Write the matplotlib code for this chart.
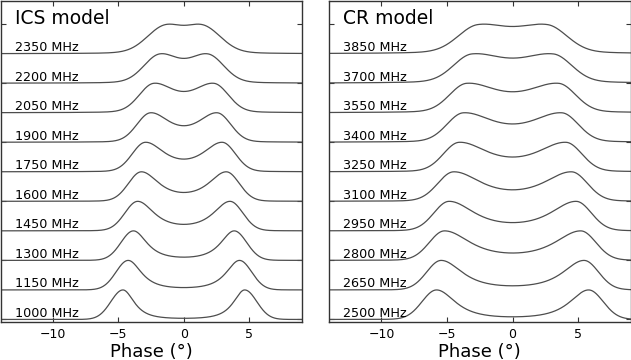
import numpy as np
import matplotlib.pyplot as plt

# values: peak phase (deg), mid-phase level (fraction of peak),
# outer-edge width (deg) for each frequency
ics_freqs = [1000, 1150, 1300, 1450, 1600, 1750, 1900, 2050, 2200, 2350]
ics_peak = [4.65, 4.25, 3.85, 3.53, 3.25, 2.94, 2.55, 2.30, 1.85, 1.47]
ics_mid = [0.04, 0.08, 0.11, 0.22, 0.30, 0.43, 0.56, 0.72, 0.84, 0.96]
ics_outer = [0.92, 0.93, 0.95, 0.97, 0.98, 1.00, 1.03, 1.10, 1.20, 1.35]

cr_freqs = [2500, 2650, 2800, 2950, 3100, 3250, 3400, 3550, 3700, 3850]
cr_peak = [5.80, 5.45, 5.20, 4.85, 4.50, 4.07, 3.75, 3.50, 3.10, 2.65]
cr_mid = [0.09, 0.14, 0.25, 0.28, 0.39, 0.50, 0.62, 0.71, 0.85, 0.92]
cr_outer = [1.10, 1.10, 1.15, 1.15, 1.20, 1.20, 1.25, 1.30, 1.40, 1.50]

phase = np.linspace(-14, 9, 1400)


def half(x, p, s_out, w_in):
    d = x - p
    return np.where(d > 0, np.exp(-0.5 * (d / s_out) ** 2),
                    (1 + (d / w_in) ** 2) ** -1.5)


def profile(x, p, s_out, w_in):
    return half(x, p, s_out, w_in) + half(-x, p, s_out, w_in)


def inner_width(p, s_out, mid):
    # pick the inner width so the level at phase 0 matches the reading
    lo, hi = np.log(0.05), np.log(50.0)
    for _ in range(60):
        w = np.exp(0.5 * (lo + hi))
        top = profile(phase, p, s_out, w).max()
        r = profile(np.array([0.0]), p, s_out, w)[0] / top
        if r > mid:
            hi = np.log(w)
        else:
            lo = np.log(w)
    return w


def draw_panel(ax, title, freqs, peaks, mids, outers):
    for i, (f, p, m, s) in enumerate(zip(freqs, peaks, mids, outers)):
        w = inner_width(p, s, m)
        y = profile(phase, p, s, w)
        y = y / y.max()
        ax.plot(phase, i + y, color='0.3', lw=0.9)
        ax.text(-12.93, i + 0.09, f'{f} MHz', fontsize=9.2, va='baseline')
    ax.text(-12.93, 10.0, title, fontsize=13.5, va='baseline')
    ax.set_xlim(-14, 9)
    ax.set_ylim(-0.085, 10.8)
    ax.set_xticks([-10, -5, 0, 5])
    ax.set_yticks(range(0, 11, 2))
    ax.tick_params(direction='in', top=True, right=True, labelleft=False,
                   length=3.5, labelsize=9, pad=4, color='0.2')
    ax.set_xlabel('Phase (°)', fontsize=13, labelpad=2)
    for sp in ax.spines.values():
        sp.set_linewidth(1.0)
        sp.set_color('0.2')


fig = plt.figure(figsize=(6.31, 3.6), dpi=100)
ax1 = fig.add_axes([0.0008, 0.1056, 0.4773, 0.893])
ax2 = fig.add_axes([329 / 631, 0.1056, 0.478, 0.893])

draw_panel(ax1, 'ICS model', ics_freqs, ics_peak, ics_mid, ics_outer)
draw_panel(ax2, 'CR model', cr_freqs, cr_peak, cr_mid, cr_outer)

fig.savefig('out.png', dpi=100)
